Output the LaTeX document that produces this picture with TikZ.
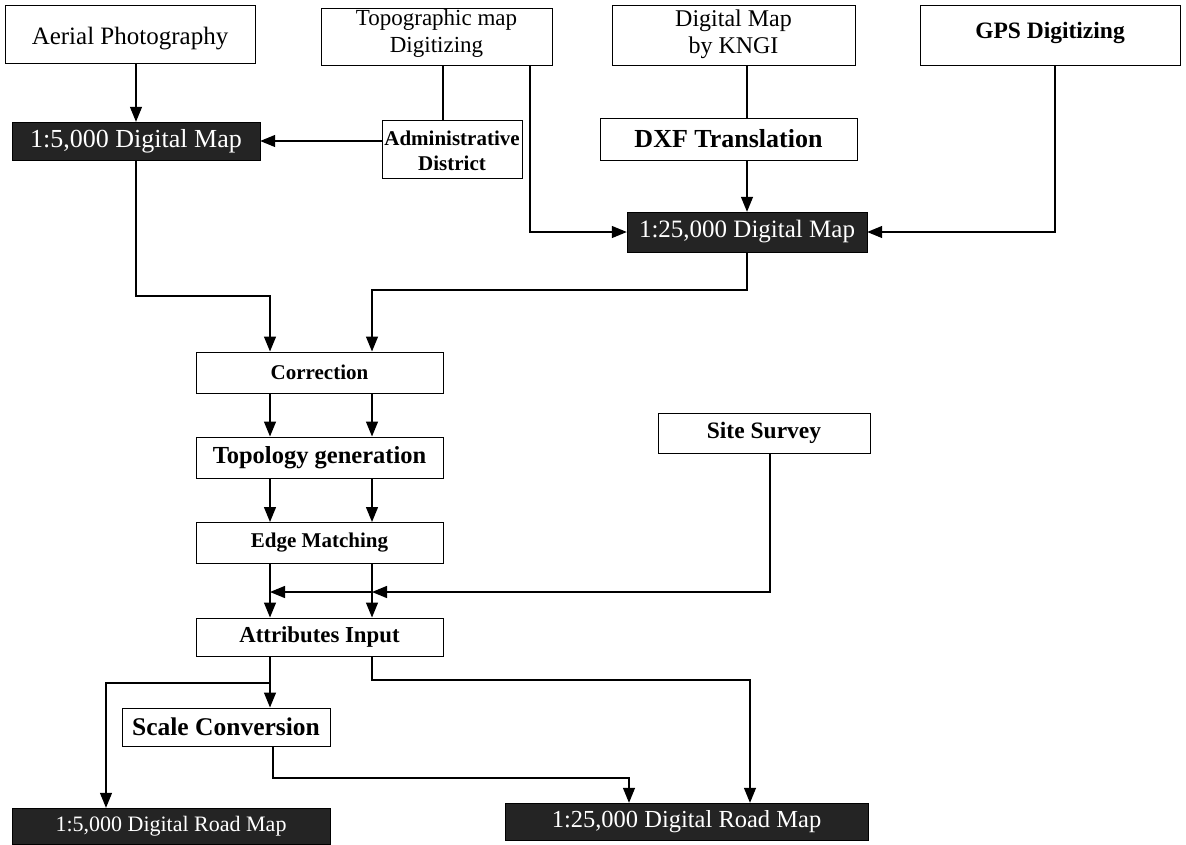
\documentclass[tikz,border=0pt]{standalone}
\usepackage{fontspec}
\setmainfont{Liberation Serif}
\usetikzlibrary{arrows.meta}
\newcommand{\fs}[1]{\fontsize{#1}{#1}\selectfont}
\newcommand{\shiftup}[2]{\raisebox{#1}[\height][\depth]{#2}}
\begin{document}
\begin{tikzpicture}[x=1pt,y=-1pt,
 box/.style={draw,line width=1pt,fill=white,inner sep=0pt,align=center,font=\fs{23}},
 bbox/.style={box,font=\fs{21}\bfseries},
 dark/.style={fill=black!86,draw=black,inner sep=0pt,text=white,font=\fs{22}},
 arr/.style={line width=1.3pt,-{Triangle[length=15pt,width=12pt]}},
 ln/.style={line width=1.3pt}]
\useasboundingbox (0,0) rectangle (1186,844);
% top row
\node[box,font=\fs{25},minimum width=250,minimum height=58] (aer) at (130,34) {\shiftup{-5pt}{Aerial Photography}};
\node[box,minimum width=231,minimum height=57] (topo) at (436.5,36.5) {\shiftup{2pt}{\begin{tabular}{@{}c@{}}Topographic map\\[4pt]Digitizing\end{tabular}}};
\node[box,font=\fs{24},minimum width=243,minimum height=60] (kngi) at (733.5,35) {\begin{tabular}{@{}c@{}}Digital Map\\[3pt]by KNGI\end{tabular}};
\node[bbox,font=\fs{23.5}\bfseries,minimum width=260,minimum height=60] (gps) at (1050,35) {\shiftup{2pt}{GPS Digitizing}};
% second row
\node[dark,font=\fs{26},minimum width=248,minimum height=38] (m5) at (136,141) {1:5,000 Digital Map};
\node[bbox,minimum width=140,minimum height=58] (adm) at (452,149) {\shiftup{-5pt}{\begin{tabular}{@{}c@{}}Administrative\\[4pt]District\end{tabular}}};
\node[bbox,font=\fs{26}\bfseries,minimum width=257,minimum height=42] (dxf) at (728.5,139) {DXF Translation};
\node[dark,font=\fs{25},minimum width=240,minimum height=40] (m25) at (747,232) {1:25,000 Digital Map};
% process column
\node[bbox,minimum width=247,minimum height=41] (cor) at (319.5,372.5) {Correction};
\node[bbox,font=\fs{24.5}\bfseries,minimum width=247,minimum height=41] (topg) at (319.5,457.5) {Topology generation};
\node[bbox,minimum width=247,minimum height=41] (edge) at (319.5,543) {Edge Matching};
\node[bbox,font=\fs{22.8}\bfseries,minimum width=247,minimum height=38] (attr) at (319.5,637) {Attributes Input};
\node[bbox,font=\fs{25.5}\bfseries,minimum width=208,minimum height=38] (scale) at (226,727) {Scale Conversion};
\node[bbox,font=\fs{23.5}\bfseries,minimum width=212,minimum height=40] (site) at (764,433) {Site Survey};
% outputs
\node[dark,minimum width=318,minimum height=36] (r5) at (171,826) {1:5,000 Digital Road Map};
\node[dark,font=\fs{24.5},minimum width=363,minimum height=37] (r25) at (686.5,821.5) {1:25,000 Digital Road Map};
% helper coordinates
\coordinate (L) at (270,0);
\coordinate (R) at (372,0);
\coordinate (xtopo) at (443,0);
\coordinate (xtopo2) at (530,0);
\coordinate (xgps) at (1055,0);
\coordinate (xr5) at (106,0);
\coordinate (xr25a) at (629,0);
\coordinate (xr25b) at (750,0);
\coordinate (xsc) at (273,0);
% connectors
\draw[arr] (aer.south -| m5.north) -- (m5.north);
\draw[ln] (topo.south -| xtopo) -- (adm.north -| xtopo);
\draw[arr] (adm.west |- m5.east) -- (m5.east);
\draw[arr] (topo.south -| xtopo2) |- (m25.west);
\draw[ln] (kngi.south -| m25.north) -- (dxf.north -| m25.north);
\draw[arr] (dxf.south -| m25.north) -- (m25.north);
\draw[arr] (gps.south -| xgps) |- (m25.east);
\draw[arr] (m5.south) -- (136,296) -| (cor.north -| L);
\draw[arr] (m25.south) -- (747,290) -| (cor.north -| R);
\draw[arr] (cor.south -| L) -- (topg.north -| L);
\draw[arr] (cor.south -| R) -- (topg.north -| R);
\draw[arr] (topg.south -| L) -- (edge.north -| L);
\draw[arr] (topg.south -| R) -- (edge.north -| R);
\draw[arr] (edge.south -| L) -- (attr.north -| L);
\draw[arr] (edge.south -| R) -- (attr.north -| R);
\coordinate (j) at (372,592);
\coordinate (jl) at (270,592);
\draw[arr] ([xshift=6pt]site.south) |- (j);
\draw[arr] (j) -- (jl);
\draw[arr] (attr.south -| L) -- (scale.north -| L);
\draw[arr] (270,683) -| (r5.north -| xr5);
\draw[arr] (attr.south -| R) -- (372,680) -| (r25.north -| xr25b);
\draw[arr] (scale.south -| xsc) -- (273,778) -| (r25.north -| xr25a);
\end{tikzpicture}
\end{document}
